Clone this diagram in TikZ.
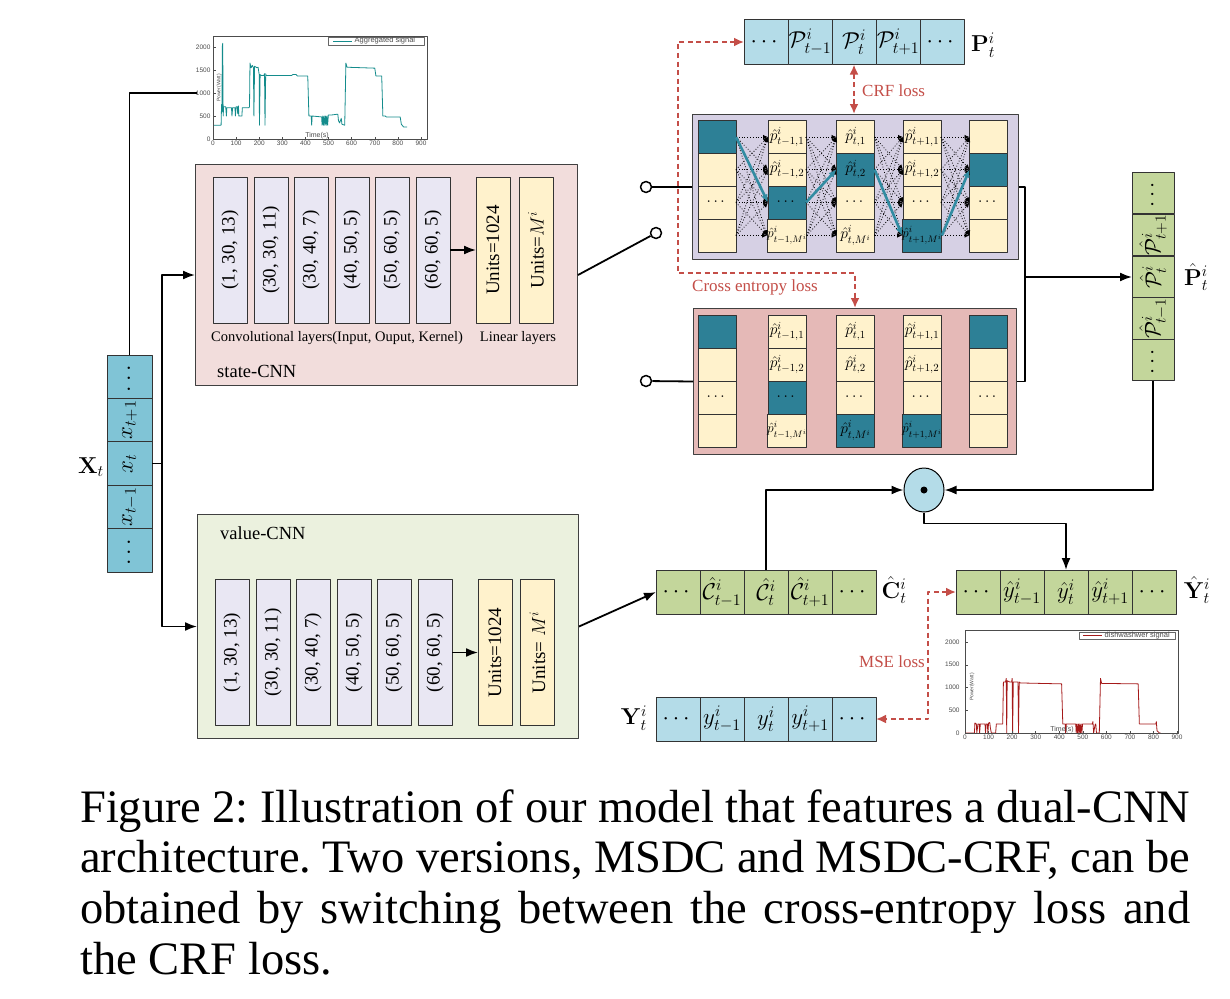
\RequirePackage{fix-cm}
\documentclass[tikz,border=0pt]{standalone}
\usepackage{amsmath}
\usepackage[no-math]{fontspec}
\setmainfont{Liberation Serif}
\newfontfamily\plotfont{Liberation Sans}
\usepackage{graphicx}
\usetikzlibrary{arrows.meta,calc,shapes.geometric}
\frenchspacing
\newcommand{\fsz}[1]{\fontsize{#1}{#1}\selectfont}
\newcommand{\smq}[1]{{\fsz{13.5}#1}}
\definecolor{xblue}{RGB}{128,196,214}
\definecolor{seqblue}{RGB}{180,220,232}
\definecolor{seqgreen}{RGB}{195,214,155}
\definecolor{cream}{RGB}{255,242,204}
\definecolor{tealc}{RGB}{45,128,150}
\definecolor{tealarrow}{RGB}{50,140,162}
\definecolor{crfbg}{RGB}{214,208,228}
\definecolor{cebg}{RGB}{229,185,183}
\definecolor{statebg}{RGB}{242,221,220}
\definecolor{valuebg}{RGB}{235,241,222}
\definecolor{convfill}{RGB}{233,231,243}
\definecolor{lossred}{RGB}{196,78,72}
\definecolor{sigteal}{RGB}{20,140,140}
\definecolor{sigred}{RGB}{165,25,25}
\tikzset{
  conn/.style={line width=1.8pt, draw=black},
  arr/.style={conn, -{Latex[length=12pt,width=9pt]}},
  cellb/.style={draw=black!80, line width=0.9pt, inner sep=0pt, outer sep=0pt},
  seqcell/.style={cellb, minimum width=44pt, minimum height=44pt, font=\fsz{23}},
  xcell/.style={cellb, fill=xblue, minimum width=45pt, minimum height=43.4pt, font=\fsz{23}},
  phcell/.style={cellb, fill=seqgreen, minimum width=42pt, minimum height=41.8pt, font=\fsz{22}},
  convbox/.style={cellb, fill=convfill, minimum width=34pt, minimum height=146pt, font=\fsz{19}},
  linbox/.style={convbox, fill=cream},
  bigbox/.style={draw=black!75, line width=1pt, inner sep=0pt, anchor=north west},
  pcell/.style={cellb, minimum width=38pt, minimum height=33pt, font=\fsz{15.5}},
  dotarr/.style={dotted, line width=0.8pt, -{Latex[length=5pt,width=4.5pt]}},
  tealarr/.style={draw=tealarrow, line width=2.6pt, -{Latex[length=8pt,width=7pt]}},
  loss/.style={draw=lossred, line width=2.4pt, dash pattern=on 5pt off 3.5pt, {Latex[length=10pt,width=9pt]}-{Latex[length=10pt,width=9pt]}},
  losslbl/.style={text=lossred, font=\fsz{17}, inner sep=0pt},
  switchc/.style={circle, draw, line width=1.5pt, fill=white, minimum size=11pt, inner sep=0pt},
  lbl/.style={inner sep=0pt, font=\fsz{23}},
  capt/.style={inner sep=0pt, font=\fsz{46.5}, anchor=base west},
  plotlbl/.style={inner sep=0.5pt, font=\plotfont\fsz{6.5}, text=black!70},
}
\begin{document}
\begin{tikzpicture}[x=1pt, y=-1pt, line join=round]
\useasboundingbox (0,0) rectangle (1230,998);
\fill[white] (0,0) rectangle (1230,998);

% ---------- big boxes ----------
\node[bigbox, fill=statebg, minimum width=382pt, minimum height=221pt] (state) at (195,164) {};
\node[bigbox, fill=valuebg, minimum width=381pt, minimum height=224pt] (value) at (197,514) {};
\node[bigbox, fill=crfbg, minimum width=326pt, minimum height=145pt] (crf) at (692,114) {};
\node[bigbox, fill=cebg, minimum width=323pt, minimum height=146pt] (ce) at (693,308) {};

% ---------- state-CNN ----------
\foreach \i/\xx/\tx in {1/230/{(1, 30, 13)}, 2/271/{(30, 30, 11)}, 3/311/{(30, 40, 7)}, 4/352/{(40, 50, 5)}, 5/392/{(50, 60, 5)}, 6/433/{(60, 60, 5)}}
  \node[convbox] (sc\i) at (\xx,250) {\rotatebox{90}{\tx}};
\node[linbox] (sl1) at (493,250) {\rotatebox{90}{Units=1024}};
\node[linbox] (sl2) at (536,250) {\rotatebox{90}{Units=$M^i$}};
\draw[arr] (sc6.east) -- (sl1.west);
\node[font=\fsz{14.5}, inner sep=0pt] (sclbl) at (337,338) {Convolutional layers(Input, Ouput, Kernel)};
\node[font=\fsz{14.5}, inner sep=0pt] (sllbl) at (518,338) {Linear layers};
\node[anchor=west, font=\fsz{18.5}, inner sep=0pt] (stname) at (217,371) {state-CNN};

% ---------- value-CNN ----------
\foreach \i/\xx/\tx in {1/232/{(1, 30, 13)}, 2/273/{(30, 30, 11)}, 3/313/{(30, 40, 7)}, 4/354/{(40, 50, 5)}, 5/394/{(50, 60, 5)}, 6/435/{(60, 60, 5)}}
  \node[convbox] (vc\i) at (\xx,652.5) {\rotatebox{90}{\tx}};
\node[linbox] (vl1) at (495,652.5) {\rotatebox{90}{Units=1024}};
\node[linbox] (vl2) at (537.5,652.5) {\rotatebox{90}{Units= $M^i$}};
\draw[arr] (vc6.east) -- (vl1.west);
\node[anchor=west, font=\fsz{18.5}, inner sep=0pt] (vname) at (220,533) {value-CNN};

% ---------- X_t column ----------
\foreach \i/\yy/\tx in {a/376.7/{$\cdots$}, b/420.1/{$x_{t+1}$}, c/463.5/{$x_t$}, d/506.9/{$x_{t-1}$}, e/550.3/{$\cdots$}}
  \node[xcell] (x\i) at (129.5,\yy) {\rotatebox{90}{\tx}};
\node[lbl] (xlbl) at (91,467) {$\mathbf{X}_t$};
\coordinate (xj) at (162,463.5);
\coordinate (pin) at (197,93);
\draw[conn] (xc.east) -- (xj);
\draw[arr] (xj) |- (state.west);
\draw[arr] (xj) |- (value.west);
\draw[conn] (xa.north) |- (pin);

% ---------- plot A (aggregated) ----------
\begin{scope}[shift={(213pt,-139pt)}, x=0.2311pt, y=0.046pt]
  \draw[sigteal, line width=0.8pt] plot coordinates {(0,300) (35,300) (37,750) (39,600) (40,2000) (42,2080) (44,500) (46,700) (55,700) (58,500) (60,680) (80,680) (82,500) (85,680) (95,680) (97,500) (100,700) (105,700) (107,550) (110,720) (112,500) (125,500) (127,680) (155,680) (158,700) (160,1650) (165,1550) (170,1600) (175,1550) (177,500) (180,1580) (190,1550) (195,1560) (200,1400) (201,300) (204,1400) (210,1380) (220,1380) (223,1420) (225,300) (228,1420) (230,1380) (340,1380) (345,1400) (360,1400) (365,1370) (410,1370) (415,500) (425,500) (427,300) (429,500) (470,480) (472,300) (475,500) (478,300) (481,500) (484,300) (487,500) (490,300) (493,500) (496,300) (499,520) (510,520) (540,540) (543,400) (548,350) (555,450) (558,320) (570,300) (575,1650) (580,1560) (700,1540) (705,1370) (730,1370) (735,500) (745,500) (750,480) (810,480) (815,320) (825,260) (840,260)};
  \draw[black!70, line width=0.5pt] (0,0) rectangle (926,2239);
  \foreach \v in {0,500,1000,1500,2000} {\draw[black!70, line width=0.4pt] (0,\v) -- (12,\v); \node[plotlbl, anchor=east] (ya\v) at (-8,\v) {\v};}
  \foreach \v in {0,100,...,900} {\draw[black!70, line width=0.4pt] (\v,0) -- (\v,50); \node[plotlbl, anchor=north] (xa\v) at (\v,-20) {\v};}
  \draw[black!60, line width=0.4pt, fill=white] (498,2043) rectangle (914,2217);
  \draw[sigteal, line width=0.8pt] (520,2130) -- (600,2130);
  \node[plotlbl, anchor=west, font=\plotfont\fsz{7.5}] (lega) at (610,2130) {Aggregated signal};
  \node[plotlbl, rotate=90, font=\plotfont\fsz{5}] (powa) at (26,1109) {Power(Watt)};
  \node[plotlbl, font=\plotfont\fsz{7}] (tima) at (450,75) {Time(s)};
\end{scope}

% ---------- plot B (dishwasher) ----------
\begin{scope}[shift={(965pt,-733pt)}, x=0.2356pt, y=0.0455pt]
  \draw[sigred, line width=0.8pt] plot coordinates {(0,0) (40,0) (42,220) (48,200) (50,0) (55,200) (60,200) (62,0) (65,200) (85,200) (87,0) (90,200) (95,200) (97,0) (100,220) (105,230) (108,100) (112,0) (130,0) (133,200) (160,200) (163,1120) (172,1120) (175,1200) (177,0) (179,1150) (190,1120) (198,1120) (200,1200) (202,0) (205,1120) (225,1120) (227,0) (230,1120) (235,1100) (410,1080) (415,200) (425,200) (427,0) (430,200) (470,200) (472,0) (475,200) (478,0) (481,200) (484,0) (487,200) (490,0) (493,200) (496,0) (499,200) (540,200) (543,250) (546,0) (552,180) (555,200) (558,0) (570,0) (575,1200) (580,1090) (735,1080) (740,200) (810,200) (812,250) (815,50) (825,0) (830,0)};
  \draw[black!70, line width=0.5pt] (0,0) rectangle (905,2264);
  \foreach \v in {0,500,1000,1500,2000} {\draw[black!70, line width=0.4pt] (0,\v) -- (12,\v); \node[plotlbl, anchor=east] (yb\v) at (-20,\v) {\v};}
  \foreach \v in {0,100,...,900} {\draw[black!70, line width=0.4pt] (\v,0) -- (\v,50); \node[plotlbl, anchor=north] (xb\v) at (\v,-20) {\v};}
  \draw[black!60, line width=0.4pt, fill=white] (484,2066) rectangle (892,2220);
  \draw[sigred, line width=0.8pt] (500,2143) -- (580,2143);
  \node[plotlbl, anchor=west, font=\plotfont\fsz{7.5}] (legb) at (590,2143) {dishwashwer signal};
  \node[plotlbl, rotate=90, font=\plotfont\fsz{5}] (powb) at (30,1010) {Power(Watt)};
  \node[plotlbl, font=\plotfont\fsz{7}] (timb) at (412,80) {Time(s)};
\end{scope}

% ---------- switch ----------
\node[switchc] (sw0) at (656,233) {};
\node[switchc] (sw1) at (646,187) {};
\node[switchc] (sw2) at (646,381) {};
\draw[conn] (state.east) -- (sw0);
\draw[conn] (sw1) -- (crf.west);
\draw[conn] (sw2) -- (ce.west);

% ---------- CRF box cells ----------
\foreach \cc/\rr/\ff/\tx in {
 1/1/tealc/{}, 1/2/cream/{}, 1/3/cream/{$\cdots$}, 1/4/cream/{},
 2/1/cream/{$\hat p^i_{t-1,1}$}, 2/2/cream/{$\hat p^i_{t-1,2}$}, 2/3/tealc/{$\cdots$}, 2/4/cream/{\smq{$\hat p^i_{t-1,M^i}$}},
 3/1/cream/{$\hat p^i_{t,1}$}, 3/2/tealc/{$\hat p^i_{t,2}$}, 3/3/cream/{$\cdots$}, 3/4/cream/{$\hat p^i_{t,M^i}$},
 4/1/cream/{$\hat p^i_{t+1,1}$}, 4/2/cream/{$\hat p^i_{t+1,2}$}, 4/3/cream/{$\cdots$}, 4/4/tealc/{\smq{$\hat p^i_{t+1,M^i}$}},
 5/1/cream/{}, 5/2/tealc/{}, 5/3/cream/{$\cdots$}, 5/4/cream/{}} {
  \pgfmathsetmacro\xx{{717,787,855.5,922,988.5}[\cc-1]}
  \pgfmathsetmacro\yy{{137,169.5,202.5,235.5}[\rr-1]}
  \node[pcell, fill=\ff] (cr-\cc-\rr) at (\xx,\yy) {\tx};
}
\foreach \cc [evaluate=\cc as \nn using int(\cc+1)] in {1,2,3,4}
  \foreach \i in {1,2,3,4}
    \foreach \j in {1,2,3,4}
      \draw[dotarr] (cr-\cc-\i.east) -- (cr-\nn-\j.west);
\draw[tealarr] (cr-1-1.east) -- (cr-2-3.west);
\draw[tealarr] (cr-2-3.east) -- (cr-3-2.west);
\draw[tealarr] (cr-3-2.east) -- (cr-4-4.west);
\draw[tealarr] (cr-4-4.east) -- (cr-5-2.west);

% ---------- CE box cells ----------
\foreach \cc/\rr/\ff/\tx in {
 1/1/tealc/{}, 1/2/cream/{}, 1/3/cream/{$\cdots$}, 1/4/cream/{},
 2/1/cream/{$\hat p^i_{t-1,1}$}, 2/2/cream/{$\hat p^i_{t-1,2}$}, 2/3/tealc/{$\cdots$}, 2/4/cream/{\smq{$\hat p^i_{t-1,M^i}$}},
 3/1/cream/{$\hat p^i_{t,1}$}, 3/2/cream/{$\hat p^i_{t,2}$}, 3/3/cream/{$\cdots$}, 3/4/tealc/{$\hat p^i_{t,M^i}$},
 4/1/cream/{$\hat p^i_{t+1,1}$}, 4/2/cream/{$\hat p^i_{t+1,2}$}, 4/3/cream/{$\cdots$}, 4/4/tealc/{\smq{$\hat p^i_{t+1,M^i}$}},
 5/1/tealc/{}, 5/2/cream/{}, 5/3/cream/{$\cdots$}, 5/4/cream/{}} {
  \pgfmathsetmacro\xx{{717,787,855.5,922,988.5}[\cc-1]}
  \pgfmathsetmacro\yy{{331.5,364.5,397.5,430.5}[\rr-1]}
  \node[pcell, fill=\ff] (ce-\cc-\rr) at (\xx,\yy) {\tx};
}

% ---------- P-hat column ----------
\foreach \i/\yy/\tx in {1/193/{$\cdots$}, 2/235/{$\hat{\mathcal{P}}^i_{t+1}$}, 3/277/{$\hat{\mathcal{P}}^i_t$}, 4/318.5/{$\hat{\mathcal{P}}^i_{t-1}$}, 5/360/{$\cdots$}}
  \node[phcell] (ph\i) at (1153,\yy) {\rotatebox{90}{\tx}};
\node[lbl] (phlbl) at (1196,277) {$\hat{\mathbf{P}}^i_t$};
\coordinate (rj) at (1025,278);
\draw[conn] (crf.east) -- (crf.east -| rj) -- (ce.east -| rj) -- (ce.east);
\draw[arr] (ph3.west -| rj) -- (ph3.west);

% ---------- sequences ----------
\foreach \i/\xx/\tx in {1/766/{$\cdots$}, 2/810/{$\mathcal{P}^i_{t-1}$}, 3/854/{$\mathcal{P}^i_t$}, 4/898/{$\mathcal{P}^i_{t+1}$}, 5/942/{$\cdots$}}
  \node[seqcell, fill=seqblue, minimum height=45pt] (p\i) at (\xx,42) {\tx};
\node[lbl] (plbl) at (983,45) {$\mathbf{P}^i_t$};

\foreach \i/\xx/\tx in {1/678/{$\cdots$}, 2/722/{$\hat{\mathcal{C}}^i_{t-1}$}, 3/766/{$\hat{\mathcal{C}}^i_t$}, 4/810/{$\hat{\mathcal{C}}^i_{t+1}$}, 5/854/{$\cdots$}}
  \node[seqcell, fill=seqgreen] (ch\i) at (\xx,592) {\tx};
\node[lbl] (chlbl) at (894,590) {$\hat{\mathbf{C}}^i_t$};

\foreach \i/\xx/\tx in {1/978/{$\cdots$}, 2/1022/{$\hat{y}^i_{t-1}$}, 3/1066/{$\hat{y}^i_t$}, 4/1110/{$\hat{y}^i_{t+1}$}, 5/1154/{$\cdots$}}
  \node[seqcell, fill=seqgreen] (yh\i) at (\xx,592) {\tx};
\node[lbl] (yhlbl) at (1197,590) {$\hat{\mathbf{Y}}^i_t$};

\foreach \i/\xx/\tx in {1/678/{$\cdots$}, 2/722/{$y^i_{t-1}$}, 3/766/{$y^i_t$}, 4/810/{$y^i_{t+1}$}, 5/854/{$\cdots$}}
  \node[seqcell, fill=seqblue] (y\i) at (\xx,719) {\tx};
\node[lbl] (ylbl) at (634,718) {$\mathbf{Y}^i_t$};

\draw[arr] (value.east) -- (ch1.west);

% ---------- element-wise product ----------
\node[ellipse, draw, line width=1pt, fill=seqblue, minimum width=40pt, minimum height=44pt, inner sep=0pt] (dot) at (924,490) {};
\fill (dot.center) circle (3.5pt);
\draw[arr] (ph5.south) |- (dot.east);
\draw[arr] (ch3.north) |- (dot.west);
\draw[arr] (dot.south) -- ++(0,11) -| (yh3.north);

% ---------- losses ----------
\coordinate (lc) at (678,273);
\draw[loss] (p1.west) -| (lc) -| (ce.north);
\draw[loss] (p3.south) -- (p3.south |- crf.north);
\coordinate (mc) at (928,719);
\draw[loss] (yh1.west) -| (mc) -- (y5.east);
\node[losslbl, anchor=west] (crfl) at (862,91) {CRF loss};
\node[losslbl, anchor=west] (cel) at (692,287) {Cross entropy loss};
\node[losslbl, anchor=east] (msel) at (925,662) {MSE loss};

% ---------- caption ----------
\node[capt] (cap1) at (80,822) {\makebox[1110pt][s]{Figure 2: Illustration of our model that features a dual-CNN}};
\node[capt] (cap2) at (80,872.7) {\makebox[1110pt][s]{architecture. Two versions, MSDC and MSDC-CRF, can be}};
\node[capt] (cap3) at (80,923.4) {\makebox[1110pt][s]{obtained by switching between the cross-entropy loss and}};
\node[capt] (cap4) at (80,974) {the CRF loss.};
\end{tikzpicture}
\end{document}
